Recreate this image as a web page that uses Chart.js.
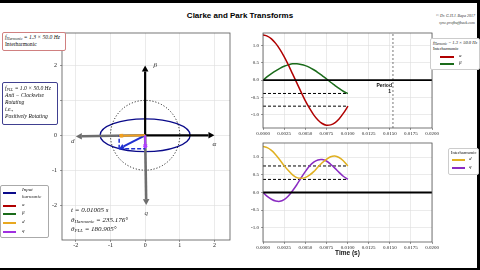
<!DOCTYPE html>
<html>
<head>
<meta charset="utf-8">
<script src="https://cdn.jsdelivr.net/npm/chart.js@4.4.1/dist/chart.umd.min.js"></script>
<style>
html, body { margin: 0; padding: 0; }
body { width: 480px; height: 270px; position: relative; overflow: hidden; background: #fff;
       font-family: "Liberation Serif", serif; color: #111; }
canvas { position: absolute; }
.abs { position: absolute; white-space: nowrap; }
.box { position: absolute; border-radius: 2px; background: #fff; }
.it { font-style: italic; }
.ln { position: absolute; height: 1.5px; }
sub { font-size: 70%; vertical-align: -1px; line-height: 0; }
</style>
</head>
<body>
<!-- video frame edges -->
<div class="abs" style="left:0;top:0;width:480px;height:3px;background:#000"></div>
<div class="abs" style="left:0;top:268px;width:480px;height:2px;background:#000"></div>
<div class="abs" style="left:477px;top:0;width:3px;height:270px;background:#000"></div>

<div class="abs" style="left:0;width:480px;top:11px;text-align:center;font:bold 8px 'Liberation Sans',sans-serif;color:#000">Clarke and Park Transforms</div>
<div class="abs" style="right:5px;top:12px;text-align:right;font:italic 4px 'Liberation Serif',serif;line-height:7px;color:#333">© Dr. G.H.J. Bapa 2017<br>sync.profbuffback.com</div>

<canvas id="vecChart" width="210" height="232" style="left:30px;top:25px"></canvas>
<canvas id="abChart" width="210" height="115" style="left:235px;top:25px"></canvas>
<canvas id="dqChart" width="210" height="128" style="left:235px;top:135px"></canvas>

<!-- info boxes, left -->
<div class="box" style="left:2px;top:32px;width:60px;height:16px;border:0.6px solid #d08080;font-size:5.6px;line-height:6.8px;padding:1px 0 0 2px">
  <span class="it">f<sub>Harmonic</sub> = 1.3 × 50.0 Hz</span><br>Interharmonic
</div>
<div class="box" style="left:2px;top:82px;width:52px;height:39px;border:0.6px solid #404090;font-size:5.6px;line-height:6.9px;padding:2px 0 0 2px">
  <span class="it">f<sub>PLL</sub> = 1.0 × 50.0 Hz<br>Anti − Clockwise<br>Rotating<br>i.e.,<br>Positively Rotating</span>
</div>

<!-- left legend -->
<div class="box" style="left:0;top:185px;width:47px;height:51px;border:0.6px solid #aaa;font-size:5px"></div>
<div class="ln" style="left:3px;top:192px;width:13px;background:#0a0a8a"></div>
<div class="abs it" style="left:22px;top:187px;font-size:5px;line-height:6.5px">Input<br>harmonic</div>
<div class="ln" style="left:3px;top:205px;width:13px;background:#b00000"></div>
<div class="abs it" style="left:22px;top:202px;font-size:5px">α</div>
<div class="ln" style="left:3px;top:213px;width:13px;background:#1a6b1a"></div>
<div class="abs it" style="left:22px;top:210px;font-size:5px">β</div>
<div class="ln" style="left:3px;top:222px;width:13px;background:#e8a820"></div>
<div class="abs it" style="left:22px;top:219px;font-size:5px">d</div>
<div class="ln" style="left:3px;top:231px;width:13px;background:#a030e0"></div>
<div class="abs it" style="left:22px;top:228px;font-size:5px">q</div>

<!-- left chart annotations -->
<div class="abs it" style="left:71px;top:206px;font-size:7px;line-height:9.5px">
  t = 0.01005 s<br>θ<sub>Harmonic</sub> = 235.176°<br>θ<sub>PLL</sub> = 180.905°
</div>

<!-- right legends -->
<div class="box" style="left:430px;top:38px;width:46px;height:29px;border:0.6px solid #ccc;font-size:4.5px;line-height:6px;padding:1px 0 0 2px">
  <span class="it">f<sub>Harmonic</sub> = 1.3 × 50.0 Hz</span><br>Interharmonic
</div>
<div class="ln" style="left:440px;top:56px;width:14px;background:#b00000"></div>
<div class="abs it" style="left:459px;top:53px;font-size:5px">α</div>
<div class="ln" style="left:440px;top:63px;width:14px;background:#1a6b1a"></div>
<div class="abs it" style="left:459px;top:60px;font-size:5px">β</div>

<div class="box" style="left:448px;top:148px;width:27px;height:24px;border:0.6px solid #ccc;font-size:4.5px;line-height:6px;padding:1px 0 0 2px">Interharmonic</div>
<div class="ln" style="left:452px;top:159px;width:13px;background:#e0b020"></div>
<div class="abs it" style="left:469px;top:156px;font-size:5px">d</div>
<div class="ln" style="left:452px;top:167px;width:13px;background:#8a2bc2"></div>
<div class="abs it" style="left:469px;top:164px;font-size:5px">q</div>

<script>
// ---- time series ----
const timeS     = [0, 0.0005, 0.0010, 0.0015, 0.0020, 0.0025, 0.0030, 0.0035, 0.0040, 0.0045, 0.0050,
                   0.0055, 0.0060, 0.0065, 0.0070, 0.0075, 0.0080, 0.0085, 0.0090, 0.0095, 0.0100, 0.01005];
const alphaVals = [1.30, 1.27, 1.19, 1.06, 0.89, 0.68, 0.44, 0.18, -0.08, -0.34, -0.59,
                   -0.81, -1.00, -1.15, -1.25, -1.30, -1.29, -1.23, -1.12, -0.96, -0.77, -0.75];
const betaVals  = [0.00, 0.10, 0.19, 0.27, 0.34, 0.40, 0.44, 0.47, 0.47, 0.45, 0.42,
                   0.37, 0.30, 0.22, 0.13, 0.04, -0.06, -0.15, -0.24, -0.32, -0.38, -0.384];
const dVals     = [1.30, 1.27, 1.19, 1.07, 0.92, 0.76, 0.62, 0.50, 0.42, 0.40, 0.42,
                   0.49, 0.59, 0.72, 0.84, 0.94, 1.01, 1.03, 0.99, 0.90, 0.76, 0.75];
const qVals     = [0.00, -0.11, -0.19, -0.24, -0.25, -0.20, -0.10, 0.05, 0.22, 0.41, 0.59,
                   0.75, 0.86, 0.92, 0.93, 0.89, 0.80, 0.69, 0.57, 0.46, 0.38, 0.37];
const periodS   = 0.01538;   // one period of the 65 Hz harmonic

// tick labels
const timeTicks  = [0, 0.0025, 0.005, 0.0075, 0.01, 0.0125, 0.015, 0.0175, 0.02];
const levelTicks = [-1, -0.5, 0, 0.5, 1];
const planeTicks = [-2, -1, 0, 1, 2];

// ---- space-vector plot (left) ----
const circleRadius = 1.0;
const ellipseAxes  = [1.30, 0.47];          // alpha / beta amplitude of the harmonic
const alphaAxisEnd = [2, 0];
const betaAxisEnd  = [0, 2];
const dAxisEnd     = [-2.0, -0.032];        // PLL frame at 180.905 deg
const qAxisEnd     = [0.032, -2.0];
const harmonicTip  = [-0.75, -0.384];
const dVectorTip   = [-0.75, -0.012];
const qVectorTip   = [0.006, -0.37];

const C = {
  alpha: '#b00000', beta: '#1a6b1a', d: '#e0b020', q: '#8a2bc2',
  harmonic: '#0a0a8a', vector: '#1f2fd0', axisGray: '#6e6e6e',
  grid: '#dedede', frame: '#555'
};

// draws the matplotlib-like box round the plot area
const framePlugin = {
  id: 'frame',
  afterDraw(chart) {
    const a = chart.chartArea, ctx = chart.ctx;
    ctx.save();
    ctx.strokeStyle = C.frame;
    ctx.lineWidth = 0.8;
    ctx.strokeRect(a.left, a.top, a.right - a.left, a.bottom - a.top);
    ctx.restore();
  }
};

function arrow(ctx, x0, y0, x1, y1, color, lw, head) {
  const ang = Math.atan2(y1 - y0, x1 - x0);
  const bx = x1 - Math.cos(ang) * head, by = y1 - Math.sin(ang) * head;
  ctx.strokeStyle = color;
  ctx.fillStyle = color;
  ctx.lineWidth = lw;
  ctx.beginPath(); ctx.moveTo(x0, y0); ctx.lineTo(bx, by); ctx.stroke();
  ctx.beginPath();
  ctx.moveTo(x1, y1);
  ctx.lineTo(bx + Math.sin(ang) * head * 0.55, by - Math.cos(ang) * head * 0.55);
  ctx.lineTo(bx - Math.sin(ang) * head * 0.55, by + Math.cos(ang) * head * 0.55);
  ctx.closePath(); ctx.fill();
}

const vectorPlugin = {
  id: 'vectors',
  afterDatasetsDraw(chart) {
    const { ctx, chartArea: a, scales: { x, y } } = chart;
    const px = v => x.getPixelForValue(v), py = v => y.getPixelForValue(v);
    const ox = px(0), oy = py(0);
    ctx.save();
    ctx.beginPath(); ctx.rect(a.left, a.top, a.right - a.left, a.bottom - a.top); ctx.clip();

    // input harmonic trajectory
    ctx.strokeStyle = C.harmonic; ctx.lineWidth = 1.3;
    ctx.beginPath();
    ctx.ellipse(ox, oy, px(ellipseAxes[0]) - ox, oy - py(ellipseAxes[1]), 0, 0, 2 * Math.PI);
    ctx.stroke();
    // unit circle
    ctx.setLineDash([1, 2]); ctx.strokeStyle = '#000'; ctx.lineWidth = 1;
    ctx.beginPath();
    ctx.ellipse(ox, oy, px(circleRadius) - ox, oy - py(circleRadius), 0, 0, 2 * Math.PI);
    ctx.stroke();
    ctx.setLineDash([]);

    // stationary and rotating frames
    arrow(ctx, ox, oy, px(alphaAxisEnd[0]), py(alphaAxisEnd[1]), '#000', 2.2, 6);
    arrow(ctx, ox, oy, px(betaAxisEnd[0]), py(betaAxisEnd[1]), '#000', 2.2, 6);
    arrow(ctx, ox, oy, px(dAxisEnd[0]), py(dAxisEnd[1]), C.axisGray, 2.6, 6);
    arrow(ctx, ox, oy, px(qAxisEnd[0]), py(qAxisEnd[1]), C.axisGray, 2.6, 6);

    // harmonic vector and its projections
    const hx = px(harmonicTip[0]), hy = py(harmonicTip[1]);
    ctx.setLineDash([4, 2]); ctx.strokeStyle = C.vector; ctx.lineWidth = 1.5;
    ctx.beginPath(); ctx.moveTo(hx, hy); ctx.lineTo(hx, oy); ctx.stroke();
    ctx.beginPath(); ctx.moveTo(hx, hy); ctx.lineTo(ox, hy); ctx.stroke();
    ctx.setLineDash([]);
    arrow(ctx, ox, oy, hx, hy, C.vector, 2, 5);

    // d / q components
    const dx = px(dVectorTip[0]), dy = py(dVectorTip[1]);
    arrow(ctx, ox, oy, dx, dy, '#f0a020', 2, 4);
    ctx.beginPath(); ctx.arc(dx + 2, dy, 2, 0, 2 * Math.PI); ctx.fill();
    const qx = px(qVectorTip[0]), qy = py(qVectorTip[1]);
    arrow(ctx, ox, oy, qx, qy, '#b040ff', 2, 4);
    ctx.beginPath(); ctx.arc(qx, qy - 2, 2, 0, 2 * Math.PI); ctx.fill();

    // axis names
    ctx.font = 'italic 7px "Liberation Serif", serif';
    ctx.textAlign = 'center'; ctx.textBaseline = 'middle';
    ctx.fillStyle = '#222';
    ctx.fillText('α', px(alphaAxisEnd[0]), py(alphaAxisEnd[1]) + 9);
    ctx.fillText('β', px(betaAxisEnd[0]) + 10, py(betaAxisEnd[1]));
    ctx.fillStyle = '#444';
    ctx.fillText('d', px(dAxisEnd[0]) - 3, py(dAxisEnd[1]) + 5);
    ctx.fillText('q', px(qAxisEnd[0]), py(qAxisEnd[1]) + 8);
    ctx.restore();
  }
};

const tickFont = { family: 'Liberation Serif', size: 5 };
const gridOpt = { color: C.grid, lineWidth: 0.6, tickLength: 2, tickColor: '#555' };

new Chart(document.getElementById('vecChart'), {
  type: 'scatter',
  data: { datasets: [] },
  options: {
    responsive: false, animation: false, devicePixelRatio: 1,
    layout: { padding: { top: 8, right: 10, bottom: 3, left: 0 } },
    plugins: { legend: { display: false }, tooltip: { enabled: false } },
    scales: {
      x: {
        type: 'linear', min: -2.4, max: 2.45,
        afterBuildTicks: s => { s.ticks = planeTicks.map(v => ({ value: v })); },
        afterFit: s => { s.height = 14; s.paddingLeft = 0; s.paddingRight = 0; },
        ticks: { font: { family: 'Liberation Serif', size: 6 }, color: '#222', padding: 0, maxRotation: 0, autoSkip: false },
        grid: gridOpt, border: { display: false }
      },
      y: {
        type: 'linear', min: -3.0, max: 2.93,
        afterBuildTicks: s => { s.ticks = planeTicks.map(v => ({ value: v })); },
        afterFit: s => { s.width = 32; s.paddingTop = 0; s.paddingBottom = 0; },
        ticks: { font: { family: 'Liberation Serif', size: 6 }, color: '#222', padding: 3, autoSkip: false },
        grid: gridOpt, border: { display: false }
      }
    }
  },
  plugins: [vectorPlugin, framePlugin]
});

// ---- time plots (right) ----
const series = vals => timeS.map((t, i) => ({ x: t, y: vals[i] }));
const tEnd = timeS[timeS.length - 1];
const hLine = (v, x1) => [{ x: 0, y: v }, { x: x1, y: v }];

function timeChart(id, datasets, yMin, yMax, xAxisHeight, title, plugins) {
  return new Chart(document.getElementById(id), {
    type: 'scatter',
    data: { datasets },
    options: {
      responsive: false, animation: false, devicePixelRatio: 1,
      layout: { padding: { top: 8, right: 13, bottom: title ? 6 : 3, left: 0 } },
      plugins: { legend: { display: false }, tooltip: { enabled: false } },
      elements: { point: { radius: 0 } },
      scales: {
        x: {
          type: 'linear', min: 0, max: 0.02,
          afterBuildTicks: s => { s.ticks = timeTicks.map(v => ({ value: v })); },
          afterFit: s => { s.height = xAxisHeight; s.paddingLeft = 0; s.paddingRight = 0; },
          ticks: { font: tickFont, color: '#222', padding: 1, maxRotation: 0, autoSkip: false,
                   callback: v => v.toFixed(4) },
          title: { display: !!title, text: title, padding: 0,
                   font: { family: 'Liberation Sans', size: 6.5, weight: 'bold' }, color: '#111' },
          grid: gridOpt, border: { display: false }
        },
        y: {
          type: 'linear', min: yMin, max: yMax,
          afterBuildTicks: s => { s.ticks = levelTicks.map(v => ({ value: v })); },
          afterFit: s => { s.width = 28; s.paddingTop = 0; s.paddingBottom = 0; },
          ticks: { font: tickFont, color: '#222', padding: 2, autoSkip: false,
                   callback: v => v.toFixed(1) },
          grid: gridOpt, border: { display: false }
        }
      }
    },
    plugins: [framePlugin].concat(plugins || [])
  });
}

const curve = (vals, color) => ({ data: series(vals), showLine: true, borderColor: color,
                                  borderWidth: 1.5, tension: 0.3, pointRadius: 0 });
const dashed = (v) => ({ data: hLine(v, tEnd), showLine: true, borderColor: '#000',
                         borderWidth: 1, borderDash: [3, 2], pointRadius: 0 });
const zeroLine = { data: hLine(0, 0.02), showLine: true, borderColor: '#000', borderWidth: 1.8, pointRadius: 0 };

const periodLabel = {
  id: 'periodLabel',
  afterDatasetsDraw(chart) {
    const { ctx, scales: { x, y } } = chart;
    ctx.save();
    ctx.font = 'bold 5px "Liberation Sans", sans-serif';
    ctx.fillStyle = '#111'; ctx.textAlign = 'right'; ctx.textBaseline = 'middle';
    ctx.fillText('Period', x.getPixelForValue(periodS) - 1, y.getPixelForValue(-0.15));
    ctx.fillText('1', x.getPixelForValue(periodS) - 2, y.getPixelForValue(-0.33));
    ctx.restore();
  }
};

timeChart('abChart', [
  zeroLine,
  curve(alphaVals, C.alpha),
  curve(betaVals, C.beta),
  dashed(alphaVals[alphaVals.length - 1]),
  dashed(betaVals[betaVals.length - 1]),
  { data: [{ x: periodS, y: -1.38 }, { x: periodS, y: 1.36 }], showLine: true,
    borderColor: '#555', borderWidth: 0.8, borderDash: [2, 2], pointRadius: 0 }
], -1.38, 1.36, 9, '', [periodLabel]);

timeChart('dqChart', [
  zeroLine,
  curve(dVals, C.d),
  curve(qVals, C.q),
  dashed(dVals[dVals.length - 1]),
  dashed(qVals[qVals.length - 1])
], -1.4, 1.4, 15, 'Time (s)');
</script>
</body>
</html>
